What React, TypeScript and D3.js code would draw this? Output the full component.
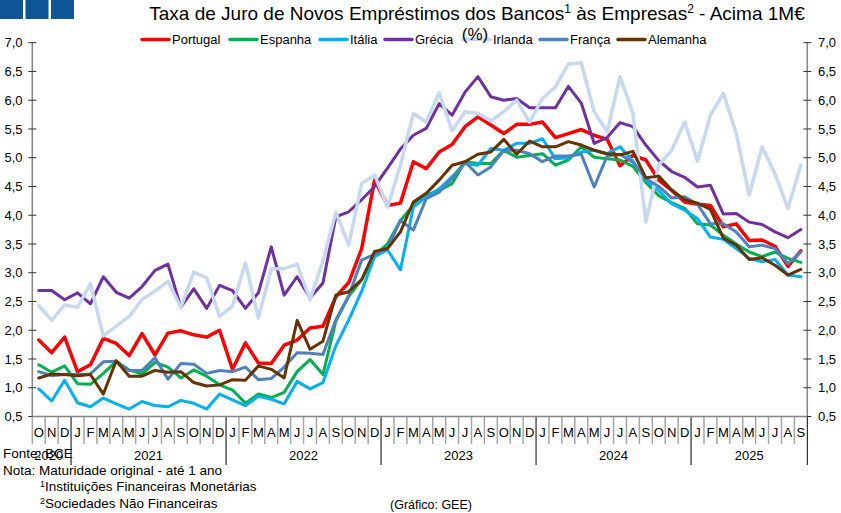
import React from "react";
import * as d3 from "d3";

const monthLabels = [
  "O","N","D",
  "J","F","M","A","M","J","J","A","S","O","N","D",
  "J","F","M","A","M","J","J","A","S","O","N","D",
  "J","F","M","A","M","J","J","A","S","O","N","D",
  "J","F","M","A","M","J","J","A","S","O","N","D",
  "J","F","M","A","M","J","J","A","S",
];
const yearLabels = ["2020", "2021", "2022", "2023", "2024", "2025"];
const yearMonthCounts = [3, 12, 12, 12, 12, 9];
const yTickValues = [0.5, 1, 1.5, 2, 2.5, 3, 3.5, 4, 4.5, 5, 5.5, 6, 6.5, 7];

const portugal = [1.83,1.61,1.88,1.28,1.40,1.86,1.77,1.56,1.94,1.57,1.95,1.99,1.92,1.88,2.00,1.32,1.78,1.43,1.42,1.74,1.83,2.04,2.07,2.58,2.83,3.42,4.61,4.17,4.21,4.93,4.81,5.10,5.23,5.54,5.71,5.57,5.42,5.58,5.58,5.62,5.35,5.42,5.49,5.39,5.32,4.86,5.04,4.96,4.61,4.43,4.23,4.19,4.17,3.80,3.85,3.56,3.57,3.46,3.11,3.38];
const espanha = [1.40,1.27,1.38,1.07,1.06,1.25,1.46,1.31,1.24,1.44,1.36,1.17,1.31,1.20,1.05,0.96,0.73,0.89,0.83,0.92,1.28,1.49,1.23,2.16,2.59,2.88,3.30,3.50,3.91,4.17,4.35,4.43,4.55,4.93,4.90,4.90,5.13,5.01,5.04,5.07,4.87,4.96,5.19,5.01,4.98,4.96,4.85,4.57,4.34,4.22,4.12,3.85,3.83,3.65,3.50,3.36,3.28,3.36,3.25,3.18];
const italia = [0.98,0.77,1.13,0.74,0.67,0.82,0.72,0.63,0.76,0.69,0.67,0.78,0.73,0.63,0.89,0.79,0.69,0.85,0.80,0.72,1.11,0.98,1.09,1.73,2.18,2.68,3.28,3.40,3.05,4.14,4.32,4.46,4.67,4.90,4.87,5.16,5.13,5.25,5.25,5.33,4.98,5.00,5.10,5.13,5.07,5.19,4.94,4.61,4.43,4.20,4.09,3.94,3.62,3.58,3.42,3.25,3.19,3.23,2.96,2.93];
const grecia = [2.69,2.69,2.53,2.65,2.46,2.93,2.66,2.56,2.76,3.04,3.15,2.40,2.72,2.38,2.78,2.69,2.38,2.65,3.45,2.61,2.93,2.56,2.82,3.97,4.06,4.27,4.50,4.82,5.15,5.39,5.51,5.94,5.74,6.14,6.41,6.06,6.00,6.03,5.87,5.87,5.87,6.24,5.95,5.25,5.35,5.61,5.54,5.22,4.95,4.76,4.66,4.49,4.52,4.02,4.03,3.88,3.84,3.71,3.61,3.75];
const irlanda = [2.43,2.17,2.44,2.40,2.81,1.90,2.07,2.24,2.54,2.68,2.85,2.40,3.01,2.91,2.24,2.42,3.17,2.21,3.07,3.07,3.15,2.53,3.20,4.05,3.48,4.55,4.70,4.14,4.87,5.77,5.62,6.13,5.47,5.80,5.77,5.64,5.80,6.00,5.62,6.03,6.23,6.63,6.65,5.80,5.45,6.41,5.77,3.88,4.87,5.13,5.62,4.94,5.74,6.12,5.42,4.35,5.19,4.72,4.12,4.87];
const franca = [1.28,1.21,1.23,1.23,1.24,1.45,1.46,1.30,1.30,1.52,1.15,1.42,1.41,1.25,1.30,1.28,1.36,1.14,1.16,1.36,1.61,1.60,1.58,2.18,2.60,3.22,3.32,3.43,3.91,3.74,4.29,4.40,4.64,4.93,4.70,4.84,5.13,5.13,5.07,4.93,5.03,5.03,5.06,4.49,5.03,5.06,4.92,4.64,4.50,4.30,4.32,4.19,3.85,3.85,3.71,3.45,3.48,3.42,3.16,3.36];
const alemanha = [1.17,1.24,1.23,1.21,1.23,0.89,1.47,1.20,1.20,1.30,1.27,1.28,1.09,1.03,1.05,1.14,1.13,1.38,1.32,1.17,2.17,1.67,1.81,2.61,2.67,2.88,3.37,3.42,3.71,4.23,4.38,4.61,4.87,4.93,5.06,5.10,5.32,5.06,5.29,5.19,5.19,5.28,5.22,5.13,5.07,5.05,5.11,4.65,4.68,4.44,4.27,4.21,4.10,3.60,3.48,3.23,3.26,3.13,2.96,3.06];

const seriesNames = ["Portugal", "Espanha", "Itália", "Grécia", "Irlanda", "França", "Alemanha"];
const seriesValues = [portugal, espanha, italia, grecia, irlanda, franca, alemanha];
const seriesColors = ["#ff0000", "#00b050", "#00b0f0", "#7030a0", "#c6d9f1", "#4f81bd", "#663300"];
const seriesWidths = [3.5, 3, 3, 3, 3.5, 3, 3];
const legendX = [142, 230, 320, 385, 463, 540, 618];

const W = 841;
const H = 513;
const plotLeft = 32.3;
const plotRight = 807.3;
const plotTop = 42.7;
const plotBottom = 416.5;
const FONT = "'Liberation Sans', Arial, sans-serif";

export default function App() {
  const idx = monthLabels.map((_, i) => i);
  const x = d3.scaleBand<number>().domain(idx).range([plotLeft, plotRight]).padding(0);
  const bw = x.bandwidth();
  const cx = (i: number) => (x(i) as number) + bw / 2;
  const y = d3.scaleLinear().domain([0.5, 7]).range([plotBottom, plotTop]);
  const fmt = (v: number) => v.toFixed(1).replace(".", ",");
  const line = d3
    .line<number>()
    .x((_, i) => cx(i))
    .y((d) => y(d));

  const bounds: number[] = [];
  let acc = 0;
  yearMonthCounts.forEach((c) => {
    acc += c;
    bounds.push(acc);
  });
  const yearStarts = [0, ...bounds.slice(0, -1)];

  return (
    <svg
      width={W}
      height={H}
      style={{ position: "absolute", left: 0, top: 0, background: "#fff" }}
      fontFamily={FONT}
    >
      {[0, 1, 2].map((k) => (
        <rect key={k} x={k * 25.5} y={0} width={23} height={19} fill="#0d5597" />
      ))}

      <text x={477} y={20} fontSize={19} textAnchor="middle" fill="#000">
        <tspan>Taxa de Juro de Novos Empréstimos dos Bancos</tspan>
        <tspan fontSize={12} dy={-7}>1</tspan>
        <tspan dy={7}> às Empresas</tspan>
        <tspan fontSize={12} dy={-7}>2</tspan>
        <tspan dy={7}> - Acima 1M€</tspan>
      </text>

      {seriesNames.map((n, k) => (
        <g key={n}>
          <line
            x1={legendX[k]}
            x2={legendX[k] + 27}
            y1={39.5}
            y2={39.5}
            stroke={seriesColors[k]}
            strokeWidth={3.5}
            strokeLinecap="round"
          />
          <text x={legendX[k] + 30} y={44} fontSize={13} fill="#000">
            {n}
          </text>
        </g>
      ))}
      <text x={475} y={40} fontSize={17} textAnchor="middle" fill="#000">
        (%)
      </text>

      <line x1={plotLeft} x2={plotLeft} y1={plotTop} y2={plotBottom} stroke="#868686" strokeWidth={1.5} />
      <line x1={plotRight} x2={plotRight} y1={plotTop} y2={plotBottom} stroke="#868686" strokeWidth={1.5} />
      {yTickValues.map((v) => (
        <g key={v}>
          <line x1={plotLeft - 4} x2={plotLeft + 4} y1={y(v)} y2={y(v)} stroke="#333" strokeWidth={1} />
          <line x1={plotRight - 4} x2={plotRight + 4} y1={y(v)} y2={y(v)} stroke="#333" strokeWidth={1} />
          <text x={22.5} y={y(v)} dy="0.35em" fontSize={13} textAnchor="end" fill="#000">
            {fmt(v)}
          </text>
          <text x={818} y={y(v)} dy="0.35em" fontSize={13} fill="#000">
            {fmt(v)}
          </text>
        </g>
      ))}

      {d3.range(0, monthLabels.length + 1).map((k) => {
        const xx = k < monthLabels.length ? (x(k) as number) : plotRight;
        const isYear = bounds.includes(k);
        return (
          <line
            key={"t" + k}
            x1={xx}
            x2={xx}
            y1={plotBottom}
            y2={isYear ? 465 : 444}
            stroke={isYear ? "#000" : "#a6a6a6"}
            strokeWidth={isYear ? 1 : 1.5}
          />
        );
      })}
      <line x1={plotLeft} x2={plotRight} y1={plotBottom} y2={plotBottom} stroke="#868686" strokeWidth={1.5} />
      {monthLabels.map((m, i) => (
        <text key={"m" + i} x={cx(i)} y={437} fontSize={13} textAnchor="middle" fill="#000">
          {m}
        </text>
      ))}
      {yearLabels.map((yl, k) => {
        const a = x(yearStarts[k]) as number;
        const b = bounds[k] < monthLabels.length ? (x(bounds[k]) as number) : plotRight;
        return (
          <text key={yl} x={(a + b) / 2 - (k === 0 ? 3 : 0)} y={460} fontSize={13} textAnchor="middle" fill="#000">
            {yl}
          </text>
        );
      })}

      {seriesValues.map((vals, k) => (
        <path
          key={seriesNames[k]}
          d={line(vals) as string}
          fill="none"
          stroke={seriesColors[k]}
          strokeWidth={seriesWidths[k]}
          strokeLinejoin="round"
          strokeLinecap="round"
        />
      ))}

      <text x={3} y={458} fontSize={13.5} fill="#000">Fonte: BCE</text>
      <text x={3} y={474.5} fontSize={13.5} fill="#000">Nota: Maturidade original - até 1 ano</text>
      <text x={40} y={491} fontSize={13.5} fill="#000">
        <tspan fontSize={9} dy={-4}>1</tspan>
        <tspan dy={4}>Instituições Financeiras Monetárias</tspan>
      </text>
      <text x={40} y={507.5} fontSize={13.5} fill="#000">
        <tspan fontSize={9} dy={-4}>2</tspan>
        <tspan dy={4}>Sociedades Não Financeiras</tspan>
      </text>
      <text x={390} y={509} fontSize={12.5} fill="#000">(Gráfico: GEE)</text>
    </svg>
  );
}
